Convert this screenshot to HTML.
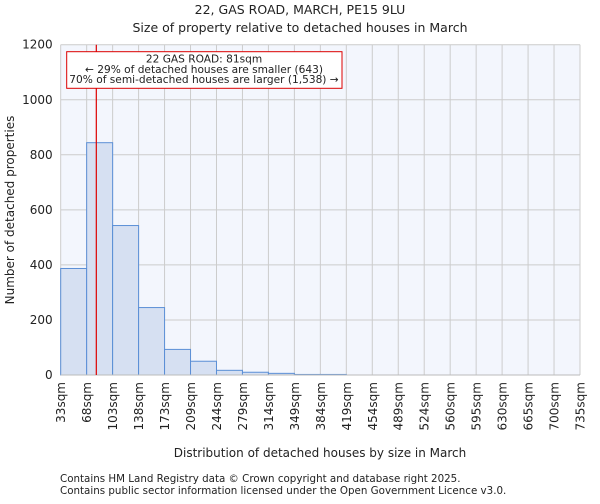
<!DOCTYPE html>
<html><head><meta charset="utf-8"><style>
body{margin:0;background:#fff;font-family:"DejaVu Sans","Liberation Sans",sans-serif;}
svg text{font-family:"DejaVu Sans","Liberation Sans",sans-serif;fill:#222;}
</style></head><body>
<svg id="chart" width="600" height="500" xmlns="http://www.w3.org/2000/svg">
<text x="300" y="14" font-size="12.5" text-anchor="middle">22, GAS ROAD, MARCH, PE15 9LU</text>
<text x="300" y="32" font-size="12.5" text-anchor="middle">Size of property relative to detached houses in March</text>
<rect x="60.7" y="44.7" width="519.3" height="330.3" fill="#f3f6fd"/>
<g id="grid"></g><g id="bars"></g><g id="axes"></g>
<text transform="translate(14,210) rotate(-90)" font-size="12" text-anchor="middle">Number of detached properties</text>
<text x="320" y="457" font-size="12" text-anchor="middle">Distribution of detached houses by size in March</text>
<text x="60" y="482" font-size="10.3">Contains HM Land Registry data © Crown copyright and database right 2025.</text>
<text x="60" y="494" font-size="10.3">Contains public sector information licensed under the Open Government Licence v3.0.</text>
</svg>
<script>
const categories=["33sqm","68sqm","103sqm","138sqm","173sqm","209sqm","244sqm","279sqm","314sqm","349sqm","384sqm","419sqm","454sqm","489sqm","524sqm","560sqm","595sqm","630sqm","665sqm","700sqm","735sqm"];
const counts=[387,844,543,245,93,50,17,10,6,2,2,0,0,0,0,0,0,0,0,0];
const yTicks=[0,200,400,600,800,1000,1200];
const propertySize=81;
const binStart=33, binWidth=35;
const X0=60.7,X1=580,Y0=375,Y1=44.7,NS="http://www.w3.org/2000/svg";
const xs=v=>X0+(v-binStart)/(binWidth*counts.length)*(X1-X0);
const ys=v=>Y0-v/1200*(Y0-Y1);
function mk(t,a,p){const e=document.createElementNS(NS,t);for(const k in a)e.setAttribute(k,a[k]);p.appendChild(e);return e;}
const grid=document.getElementById('grid'),bars=document.getElementById('bars'),axes=document.getElementById('axes');
yTicks.forEach(v=>{const l=mk('line',{x1:X0,x2:X1,y1:ys(v),y2:ys(v),stroke:'#ccc','stroke-width':1},grid);


const t=mk('text',{x:X0-8,y:ys(v)+4,'font-size':12,'text-anchor':'end'},axes);t.textContent=v;

});
categories.forEach((c,i)=>{const x=xs(binStart+i*binWidth);
const l=mk('line',{x1:x,x2:x,y1:Y1,y2:Y0,stroke:'#ccc','stroke-width':1},grid);


const t=mk('text',{transform:`translate(${x+4.5},${Y0+7}) rotate(-90)`,'font-size':12,'text-anchor':'end'},axes);t.textContent=c;

});
counts.forEach((v,i)=>{const x=xs(binStart+i*binWidth),w=xs(binStart+(i+1)*binWidth)-x;
if(v<=0)return;
const r=mk('rect',{x:x,y:ys(v),width:w,height:Y0-ys(v),fill:'#d6e0f2',stroke:'#5b8fd6','stroke-width':1},bars);

});
const ax=mk('line',{x1:X0,x2:X1,y1:Y0,y2:Y0,stroke:'#bbb','stroke-width':1},axes);


const px=xs(propertySize);
const ml=mk('line',{x1:px,x2:px,y1:Y1,y2:Y0,stroke:'#d00','stroke-width':1.2},axes);


const g=mk('g',{},axes);


mk('rect',{x:66.7,y:51.7,width:275.3,height:36.6,fill:'#fff',stroke:'#d00','stroke-width':1},g);
[["22 GAS ROAD: 81sqm",62.5],["← 29% of detached houses are smaller (643)",72.8],["70% of semi-detached houses are larger (1,538) →",83]].forEach(([s,y])=>{
const t=mk('text',{x:204,y:y,'font-size':10.6,'text-anchor':'middle'},g);t.textContent=s;

});
</script>
</body></html>
